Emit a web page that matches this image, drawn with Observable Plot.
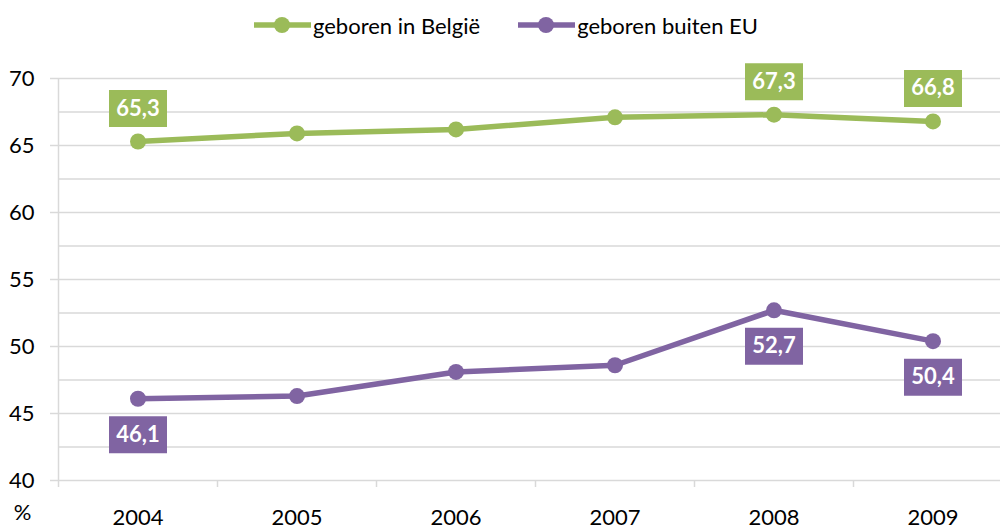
<!DOCTYPE html>
<html>
<head>
<meta charset="utf-8">
<script src="https://cdn.jsdelivr.net/npm/d3@7"></script>
<script src="https://cdn.jsdelivr.net/npm/@observablehq/plot@0.6"></script>
<style>
  body { margin: 0; background: #fff; font-family: Lato, sans-serif; }
  #legend { height: 50px; display: flex; justify-content: center; align-items: center; gap: 0; padding-left: 12px; box-sizing: border-box; }
  .item { display: flex; align-items: center; font-size: 22px; color: #000; }
  .item + .item { margin-left: 38px; }
  .item svg { margin-right: 2px; }
</style>
</head>
<body>
<div id="legend"></div>
<div id="chart"></div>
<script>
const years = [2004, 2005, 2006, 2007, 2008, 2009];
const seriesNames = ["geboren in België", "geboren buiten EU"];
const seriesColors = ["#9BBB59", "#8064A2"];
const belgie = [65.3, 65.9, 66.2, 67.1, 67.3, 66.8];
const buitenEU = [46.1, 46.3, 48.1, 48.6, 52.7, 50.4];
const labelYears = [2004, 2008, 2009];
const yTicks = [40, 45, 50, 55, 60, 65, 70];
const yGrid = [40, 42.5, 45, 47.5, 50, 52.5, 55, 57.5, 60, 62.5, 65, 67.5, 70];

const data = [
  ...years.map((y, i) => ({year: y, value: belgie[i], series: seriesNames[0]})),
  ...years.map((y, i) => ({year: y, value: buitenEU[i], series: seriesNames[1]}))
];
const fmt = v => v.toFixed(1).replace(".", ",");
const labelsTop = data.filter(d => d.series === seriesNames[0] && labelYears.includes(d.year));
const labelsBottom = data.filter(d => d.series === seriesNames[1] && labelYears.includes(d.year));
const boundaries = [2003.5, ...years.map(y => y + 0.5)];

// legend
const legend = d3.select("#legend");
seriesNames.forEach((name, i) => {
  const item = legend.append("div").attr("class", "item");
  const sw = item.append("svg").attr("width", 57).attr("height", 18);
  sw.append("line").attr("x1", 0).attr("x2", 57).attr("y1", 9).attr("y2", 9)
    .attr("stroke", seriesColors[i]).attr("stroke-width", 5.5);
  sw.append("circle").attr("cx", 28).attr("cy", 9).attr("r", 8).attr("fill", seriesColors[i]);
  item.append("span").text(name);
});

const boxSymbol = {
  draw(ctx) {
    ctx.moveTo(-29, -18.5); ctx.lineTo(29, -18.5); ctx.lineTo(29, 18.5); ctx.lineTo(-29, 18.5); ctx.closePath();
  }
};

const labelMarks = (rows, dy) => [
  Plot.dot(rows, {x: "year", y: "value", fill: "series", r: 10, symbol: boxSymbol, dy}),
  Plot.text(rows, {x: "year", y: "value", text: d => fmt(d.value), dy, fill: "#fff",
    fontSize: 22, fontWeight: "bold"})
];

const grid = "#d9d9d9";
const chart = Plot.plot({
  width: 1000,
  height: 479,
  marginTop: 28,
  marginBottom: 49,
  marginLeft: 58,
  marginRight: 0,
  style: {fontFamily: "Lato, sans-serif", fontSize: "22px", color: "#000", background: "#fff", overflow: "visible"},
  x: {type: "linear", domain: [2003.5, 2009.5], range: [58, 1012]},
  y: {domain: [40, 70]},
  color: {domain: seriesNames, range: seriesColors},
  marks: [
    Plot.ruleY(yGrid, {stroke: grid, strokeWidth: 1.5}),
    Plot.ruleX([2003.5], {y1: 40, y2: 70, stroke: grid, strokeWidth: 1.5}),
    Plot.axisY({ticks: yTicks, tickSize: 8, text: null, stroke: grid, strokeWidth: 1.5, label: null}),
    Plot.axisY({ticks: yTicks, tickSize: 0, tickPadding: 24, fontSize: 22, label: null, fill: "#000"}),
    Plot.axisX({ticks: boundaries, tickSize: 7, text: null, stroke: grid, strokeWidth: 1.5, label: null}),
    Plot.axisX({ticks: years, tickSize: 0, tickPadding: 29, fontSize: 22, tickFormat: d => String(d), label: null, fill: "#000"}),
    Plot.text(["%"], {frameAnchor: "bottom-left", textAnchor: "middle", dx: -36, dy: 39, fontSize: 22, fill: "#000"}),
    Plot.line(data, {x: "year", y: "value", z: "series", stroke: "series", strokeWidth: 5.5}),
    Plot.dot(data, {x: "year", y: "value", fill: "series", r: 8}),
    ...labelMarks(labelsTop, -33),
    ...labelMarks(labelsBottom, 36)
  ]
});
document.getElementById("chart").append(chart);
</script>
</body>
</html>
